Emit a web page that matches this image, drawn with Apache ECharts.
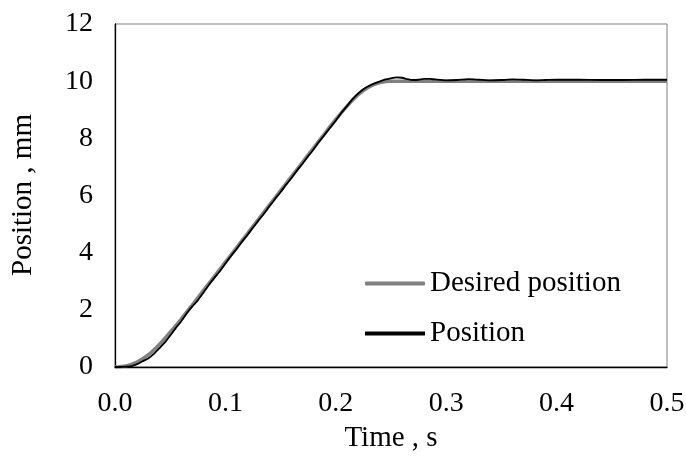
<!DOCTYPE html>
<html>
<head>
<meta charset="utf-8">
<script src="https://cdn.jsdelivr.net/npm/echarts@6/dist/echarts.min.js"></script>
<style>html,body{margin:0;padding:0;background:#fff}#c{width:686px;height:456px}</style>
</head>
<body>
<div id="c"></div>
<script>
var desiredTime = [0,0.01,0.02,0.03,0.04,0.05,0.06,0.07,0.08,0.09,0.1,0.11,0.12,0.13,0.14,0.15,0.16,0.17,0.18,0.19,0.2,0.21,0.22,0.23,0.24,0.25,0.3,0.35,0.4,0.45,0.5];
var desiredPos = [0,0.04,0.17,0.42,0.78,1.22,1.68,2.17,2.67,3.17,3.67,4.17,4.67,5.17,5.67,6.17,6.67,7.17,7.67,8.17,8.66,9.12,9.52,9.8,9.95,10.0,10.0,10.0,10.0,10.0,10.0];

var posTime = [0,0.005,0.01,0.015,0.02,0.025,0.03,0.035,0.04,0.045,0.05,0.055,0.06,0.065,0.07,0.075,0.08,0.085,0.09,0.095,0.1,0.105,0.11,0.115,0.12,0.125,0.13,0.135,0.14,0.145,0.15,0.155,0.16,0.165,0.17,0.175,0.18,0.185,0.19,0.195,0.2,0.205,0.21,0.215,0.22,0.225,0.23,0.235,0.24,0.245,0.25,0.255,0.26,0.265,0.27,0.275,0.28,0.285,0.29,0.3,0.31,0.32,0.33,0.34,0.35,0.36,0.37,0.38,0.39,0.4,0.42,0.44,0.46,0.48,0.5];
var posValue = [0,0,0.01,0.03,0.1,0.2,0.3,0.45,0.65,0.85,1.1,1.36,1.6,1.88,2.12,2.33,2.6,2.87,3.12,3.35,3.62,3.88,4.12,4.38,4.62,4.88,5.13,5.37,5.63,5.88,6.12,6.38,6.62,6.88,7.12,7.38,7.62,7.89,8.13,8.38,8.62,8.89,9.12,9.36,9.56,9.72,9.83,9.92,9.99,10.06,10.1,10.13,10.12,10.07,10.04,10.05,10.08,10.08,10.06,10.03,10.04,10.07,10.05,10.03,10.04,10.06,10.05,10.03,10.04,10.05,10.05,10.04,10.04,10.05,10.05];

var xTicks = [0,0.1,0.2,0.3,0.4,0.5];
var yTicks = [0,2,4,6,8,10,12];

function pairs(t, v){ return t.map(function(x,i){ return [x, v[i]]; }); }

var font = 'Liberation Serif';
var chart = echarts.init(document.getElementById('c'), null, {renderer:'canvas'});
chart.setOption({
  animation: false,
  backgroundColor: '#fff',
  grid: {left:115, right:19, top:24, bottom:89, show:true, borderColor:'#808080', borderWidth:1, outerBoundsMode:'none', containLabel:false},
  xAxis: {
    type:'value', min:xTicks[0], max:xTicks[xTicks.length-1], interval:0.1,
    name:'Time , s', nameLocation:'middle', nameGap:57,
    nameTextStyle:{fontFamily:font, fontSize:29, color:'#000'},
    axisLine:{show:true, onZero:false, lineStyle:{color:'#000', width:1.3}},
    axisTick:{show:false}, splitLine:{show:false},
    axisLabel:{margin:23, fontFamily:font, fontSize:28, color:'#000', formatter:function(v){return v.toFixed(1);}}
  },
  yAxis: {
    type:'value', min:yTicks[0], max:yTicks[yTicks.length-1], interval:2,
    axisLine:{show:true, onZero:false, lineStyle:{color:'#000', width:1.3}},
    axisTick:{show:false}, splitLine:{show:false},
    axisLabel:{margin:22, fontFamily:font, fontSize:28, color:'#000'}
  },
  graphic: [{
    type:'text', x:23, y:195, rotation:Math.PI/2,
    style:{text:'Position , mm', font:'29px "Liberation Serif"', fill:'#000', align:'center', verticalAlign:'middle'}
  }],
  legend: {
    show:true, orient:'vertical', left:360, top:264, itemWidth:60, itemHeight:4, itemGap:21,
    textStyle:{fontFamily:font, fontSize:29, color:'#000'},
    data:[{name:'Desired position', icon:'roundRect'}, {name:'Position', icon:'rect'}]
  },
  series: [
    {name:'Desired position', type:'line', data:pairs(desiredTime, desiredPos), showSymbol:false, symbol:'none', smooth:0.3,
     lineStyle:{color:'#808080', width:3.5}, itemStyle:{color:'#808080'}, z:2},
    {name:'Position', type:'line', data:pairs(posTime, posValue), showSymbol:false, symbol:'none', smooth:0.2,
     lineStyle:{color:'#000', width:1.8}, itemStyle:{color:'#000'}, z:3}
  ]
});
</script>
</body>
</html>
